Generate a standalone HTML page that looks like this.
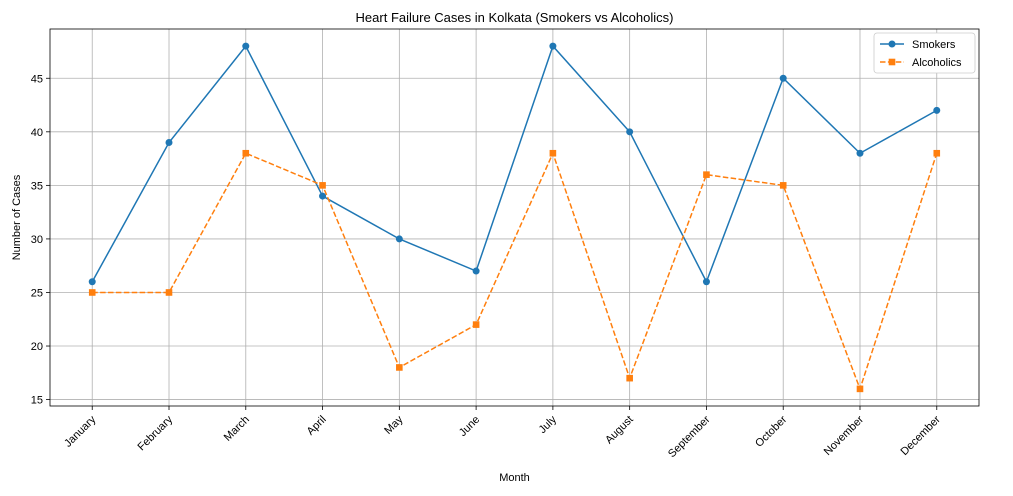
<!DOCTYPE html>
<html><head><meta charset="utf-8"><style>
body{margin:0;background:#fff;font-family:"Liberation Sans","DejaVu Sans",sans-serif;}
svg text{font-family:"Liberation Sans","DejaVu Sans",sans-serif;fill:#000;}
</style></head><body>
<svg id="chart" width="1013" height="491"></svg>
<script>
const months=["January","February","March","April","May","June","July","August","September","October","November","December"];
const smokers=[26,39,48,34,30,27,48,40,26,45,38,42];
const alcoholics=[25,25,38,35,18,22,38,17,36,35,16,38];
const yTicks=[15,20,25,30,35,40,45];
const L=50,R=979,T=29,B=406;
const yMin=14.4,yMax=49.6;
const ns="http://www.w3.org/2000/svg";
const svg=document.getElementById('chart');
function x(i){return L+(R-L)*(i+0.55)/(months.length-1+1.1);}
function y(v){return B-(v-yMin)/(yMax-yMin)*(B-T);}
function mk(t,a,p){const e=document.createElementNS(ns,t);for(const k in a)e.setAttribute(k,a[k]);(p||svg).appendChild(e);return e;}
// grid
yTicks.forEach(v=>{
 const g=mk('line',{x1:L,x2:R,y1:y(v),y2:y(v),stroke:'#b0b0b0','stroke-width':0.8});
 
 
 mk('line',{x1:L-4,x2:L,y1:y(v),y2:y(v),stroke:'#000','stroke-width':0.8});
 const t=mk('text',{x:L-7,y:y(v)+4,'text-anchor':'end','font-size':11});t.textContent=v;
 
 
});
months.forEach((m,i)=>{
 const g=mk('line',{x1:x(i),x2:x(i),y1:T,y2:B,stroke:'#b0b0b0','stroke-width':0.8});
 
 
 mk('line',{x1:x(i),x2:x(i),y1:B,y2:B+4,stroke:'#000','stroke-width':0.8});
 const t=mk('text',{x:x(i)+4,y:B+14,'text-anchor':'end','font-size':11,transform:`rotate(-45 ${x(i)+4} ${B+14})`});t.textContent=m;
 
 
});
const fr=mk('rect',{x:L,y:T,width:R-L,height:B-T,fill:'none',stroke:'#000','stroke-width':0.8});


// series
const s1=mk('polyline',{points:smokers.map((v,i)=>x(i)+','+y(v)).join(' '),fill:'none',stroke:'#1f77b4','stroke-width':1.5});


smokers.forEach((v,i)=>{const c=mk('circle',{cx:x(i),cy:y(v),r:3.5,fill:'#1f77b4'});
 
 });
const s2=mk('polyline',{points:alcoholics.map((v,i)=>x(i)+','+y(v)).join(' '),fill:'none',stroke:'#ff7f0e','stroke-width':1.5,'stroke-dasharray':'5.5,2.4'});


alcoholics.forEach((v,i)=>{const c=mk('rect',{x:x(i)-3.3,y:y(v)-3.3,width:6.6,height:6.6,fill:'#ff7f0e'});
 
 });
// titles
let t=mk('text',{x:(L+R)/2,y:22,'text-anchor':'middle','font-size':13});t.textContent='Heart Failure Cases in Kolkata (Smokers vs Alcoholics)';


t=mk('text',{x:(L+R)/2,y:481,'text-anchor':'middle','font-size':11});t.textContent='Month';


t=mk('text',{x:20,y:(T+B)/2,'text-anchor':'middle','font-size':11,transform:`rotate(-90 20 ${(T+B)/2})`});t.textContent='Number of Cases';


// legend
const lg=mk('g',{});


mk('rect',{x:874,y:33,width:101,height:40,rx:3,fill:'#fff',stroke:'#ccc','stroke-width':0.8},lg);
mk('line',{x1:880,x2:904,y1:44,y2:44,stroke:'#1f77b4','stroke-width':1.5},lg);
mk('circle',{cx:892,cy:44,r:3.5,fill:'#1f77b4'},lg);
t=mk('text',{x:912,y:48,'font-size':11},lg);t.textContent='Smokers';


mk('line',{x1:880,x2:904,y1:62,y2:62,stroke:'#ff7f0e','stroke-width':1.5,'stroke-dasharray':'5.5,2.4'},lg);
mk('rect',{x:888.7,y:58.7,width:6.6,height:6.6,fill:'#ff7f0e'},lg);
t=mk('text',{x:912,y:66,'font-size':11},lg);t.textContent='Alcoholics';


</script>
</body></html>
